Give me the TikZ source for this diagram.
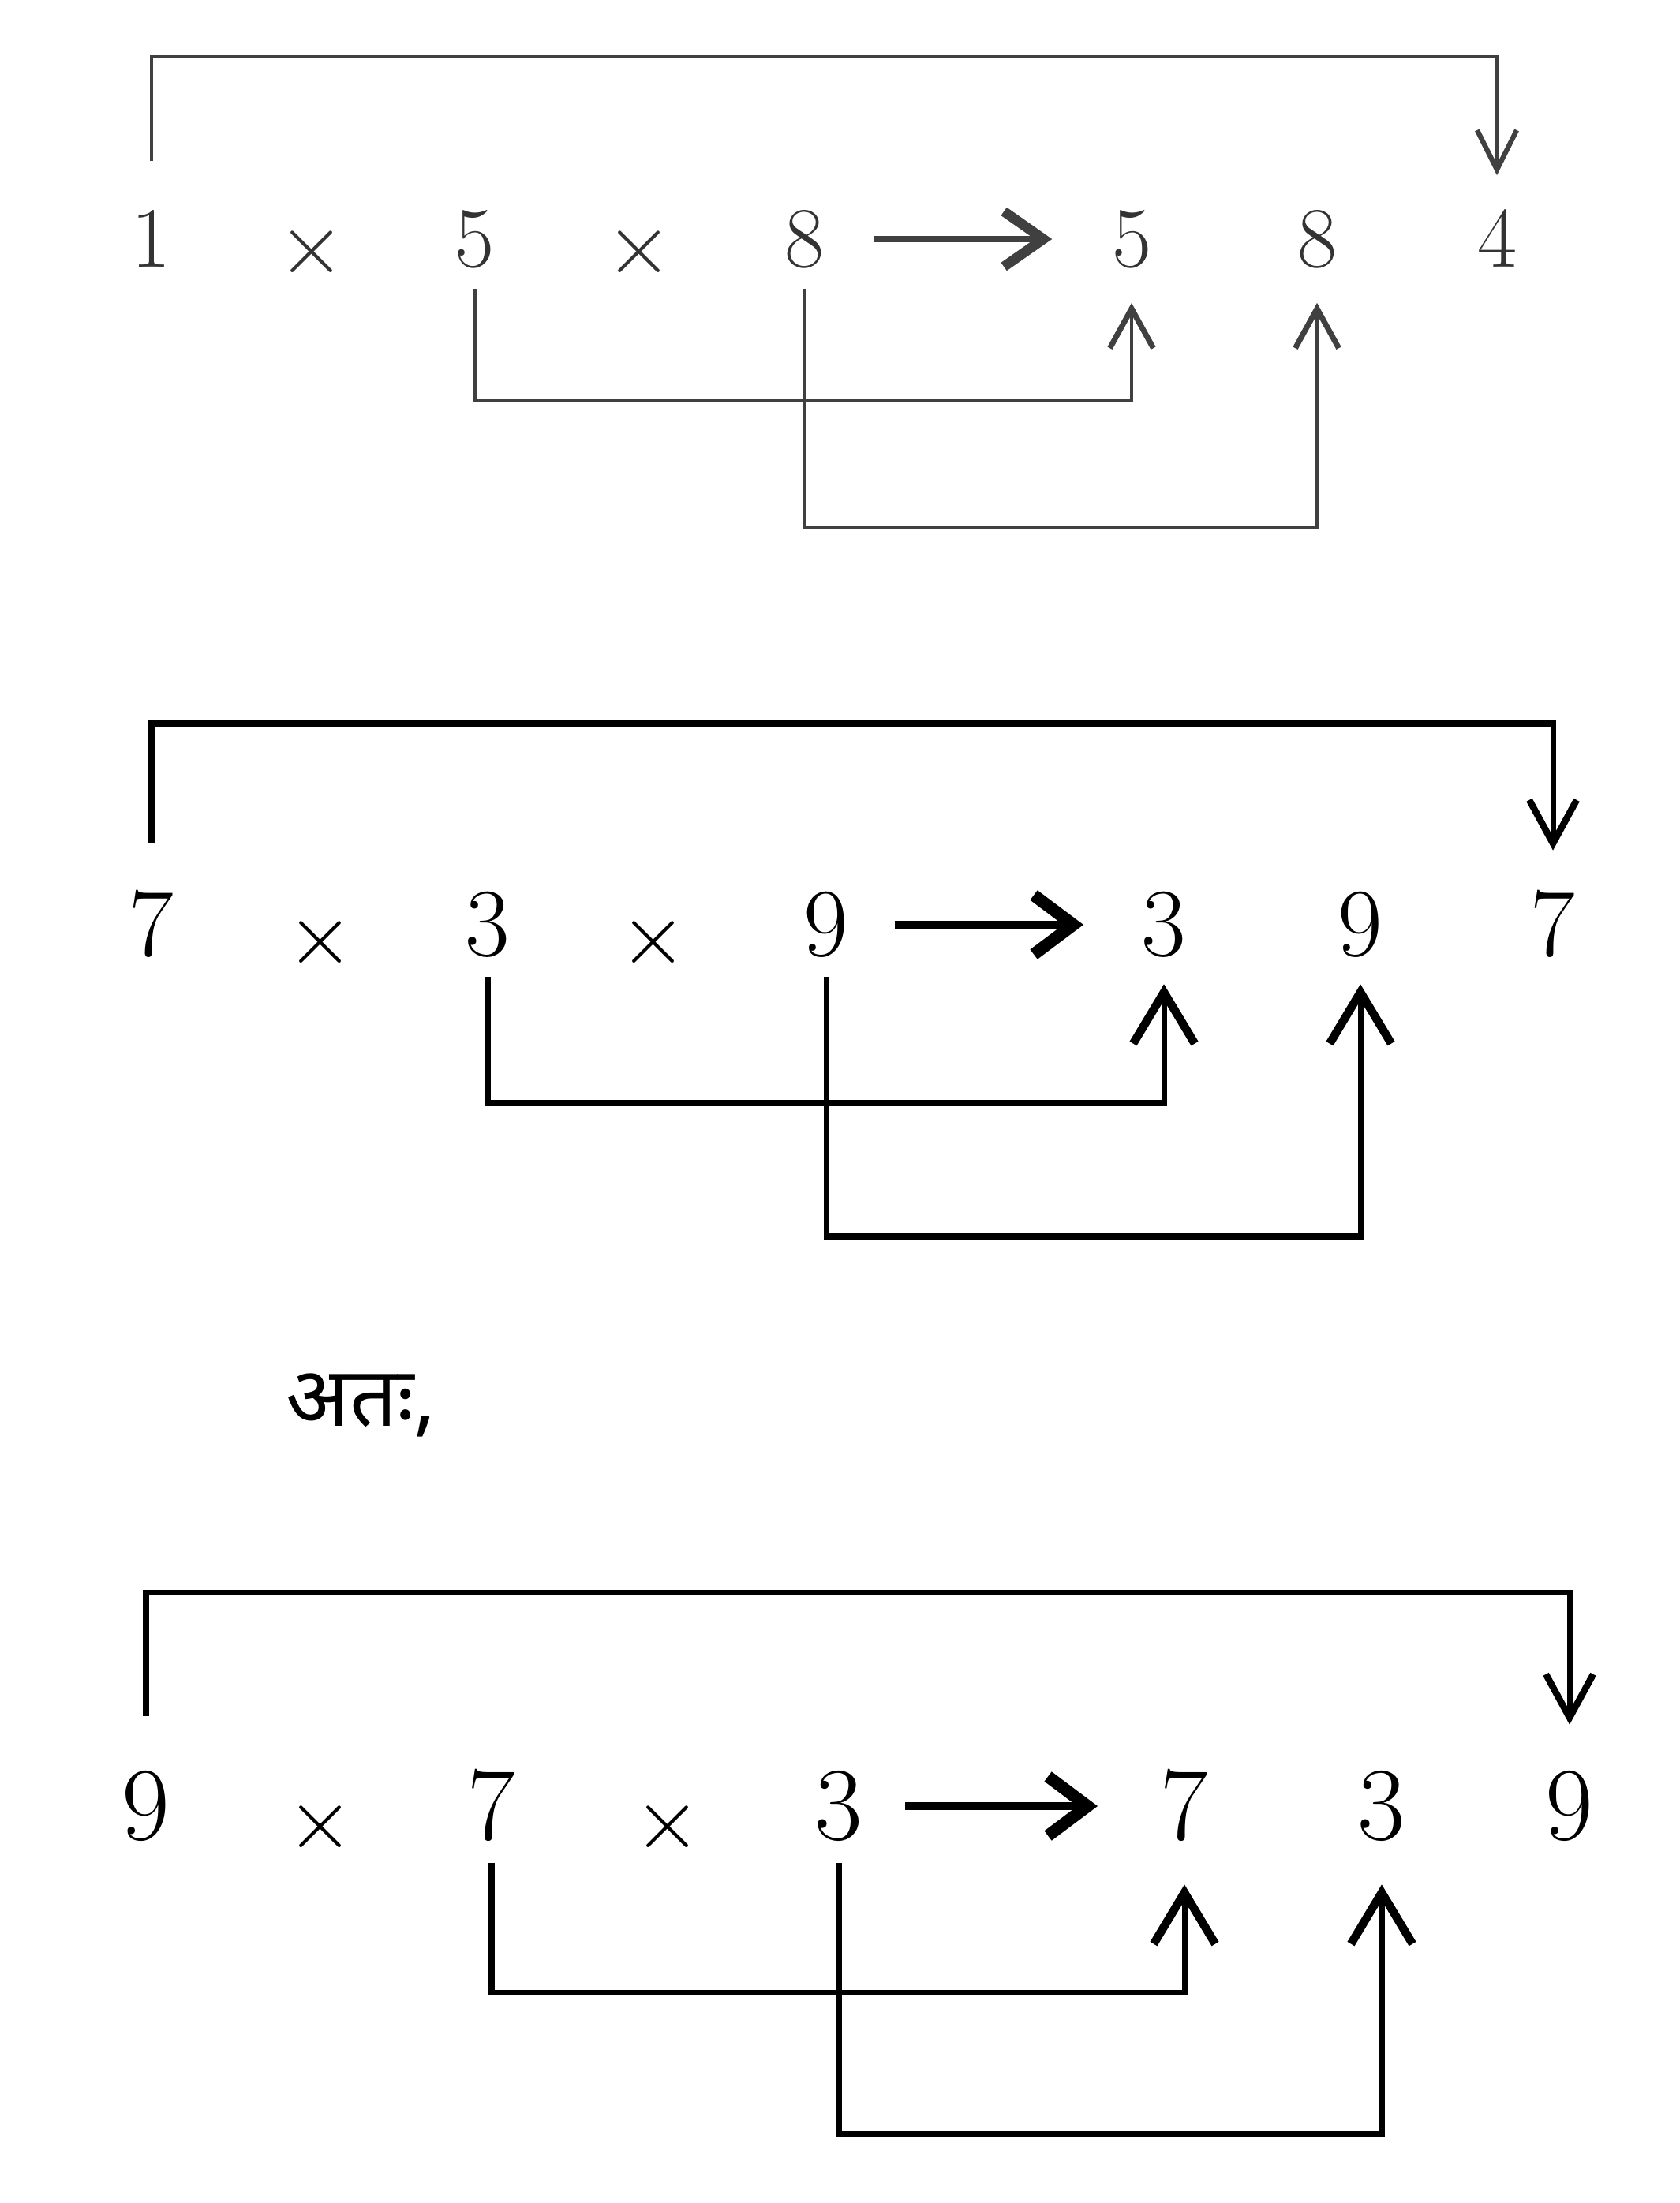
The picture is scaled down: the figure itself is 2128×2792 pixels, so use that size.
\documentclass[tikz,border=0pt]{standalone}
\usepackage{fontspec}
\newfontfamily\devfont[Script=Devanagari]{Noto Sans}
\usetikzlibrary{arrows.meta}
\begin{document}
\begin{tikzpicture}[x=0.01cm,y=-0.01cm,
  dg/.style={inner sep=0pt, text depth=0pt, anchor=center},
  fA/.style={font=\fontsize{31}{36}\selectfont, text=black!80, text height=20pt},
  fB/.style={font=\fontsize{35}{40}\selectfont, text height=22.5pt},
  fC/.style={font=\fontsize{37.5}{42}\selectfont, text height=24.2pt},
  tm/.style={scale=1.25},
  lnA/.style={line width=1.3pt, draw=black!75},
  lnB/.style={line width=2pt, draw=black},
  downA/.style={-{Straight Barb[length=0.5cm,width=0.5cm,line width=1.8pt]}},
  downB/.style={-{Straight Barb[length=0.55cm,width=0.6cm,line width=2.4pt]}},
  upA/.style={-{Straight Barb[length=0.5cm,width=0.55cm,line width=2pt]}},
  upB/.style={-{Straight Barb[length=0.65cm,width=0.78cm,line width=3pt]}},
  midA/.style={line width=2.2pt, draw=black!75, -{Straight Barb[length=0.5cm,width=0.7cm,line width=3.6pt]}},
  midB/.style={line width=3pt, draw=black, -{Straight Barb[length=0.5cm,width=0.75cm,line width=4.4pt]}}
]
\useasboundingbox (0,0) rectangle (2128,2792);

% ---------- Block 1 ----------
\begin{scope}[every node/.style={dg,fA}]
\node (a1) at (192,303) {1};
\node[tm] (ax1) at (395,303) {$\times$};
\node (a2) at (602,303) {5};
\node[tm] (ax2) at (810,303) {$\times$};
\node (a3) at (1019,303) {8};
\node (r1) at (1434,303) {5};
\node (r2) at (1669,303) {8};
\node (r3) at (1897,303) {4};
\end{scope}
\coordinate (t1) at (1000,72);
\coordinate (u1) at (1000,508);
\coordinate (v1) at (1300,668);
\draw[lnA,downA] ([yshift=0.63cm]a1.north) |- (t1) -| ([yshift=0.45cm]r3.north);
\draw[midA] ([xshift=0.62cm]a3.east) -- ([xshift=-0.75cm]r1.west);
\draw[lnA,upA] ([yshift=-0.27cm]a2.south) |- (u1) -| ([yshift=-0.45cm]r1.south);
\draw[lnA,upA] ([yshift=-0.27cm]a3.south) |- (v1) -| ([yshift=-0.45cm]r2.south);

% ---------- Block 2 ----------
\begin{scope}[every node/.style={dg,fB}]
\node (b1) at (192,1172) {7};
\node[tm] (bx1) at (406,1172) {$\times$};
\node (b2) at (618,1172) {3};
\node[tm] (bx2) at (828,1172) {$\times$};
\node (b3) at (1047,1172) {9};
\node (s1) at (1475,1172) {3};
\node (s2) at (1724,1172) {9};
\node (s3) at (1968,1172) {7};
\end{scope}
\coordinate (t2) at (1000,917);
\coordinate (u2) at (1000,1398);
\coordinate (v2) at (1300,1567);
\draw[lnB,downB] ([yshift=0.63cm]b1.north) |- (t2) -| ([yshift=0.54cm]s3.north);
\draw[midB] ([xshift=0.58cm]b3.east) -- ([xshift=-0.73cm]s1.west);
\draw[lnB,upB] ([yshift=-0.26cm]b2.south) |- (u2) -| ([yshift=-0.35cm]s1.south);
\draw[lnB,upB] ([yshift=-0.26cm]b3.south) |- (v2) -| ([yshift=-0.35cm]s2.south);

% ---------- Text ----------
\node[anchor=west, inner sep=0pt, font=\devfont\fontsize{30}{36}\selectfont] (ata) at (362,1781) {अतः,};

% ---------- Block 3 ----------
\begin{scope}[every node/.style={dg,fC}]
\node (c1) at (185,2289) {9};
\node[tm] (cx1) at (406,2289) {$\times$};
\node (c2) at (623,2289) {7};
\node[tm] (cx2) at (846,2289) {$\times$};
\node (c3) at (1063,2289) {3};
\node (w1) at (1501,2289) {7};
\node (w2) at (1751,2289) {3};
\node (w3) at (1989,2289) {9};
\end{scope}
\coordinate (t3) at (1000,2018);
\coordinate (u3) at (1000,2525);
\coordinate (v3) at (1300,2704);
\draw[lnB,downB] ([yshift=0.71cm]c1.north) |- (t3) -| ([yshift=0.60cm]w3.north);
\draw[midB] ([xshift=0.53cm]c3.east) -- ([xshift=-0.79cm]w1.west);
\draw[lnB,upB] ([yshift=-0.29cm]c2.south) |- (u3) -| ([yshift=-0.56cm]w1.south);
\draw[lnB,upB] ([yshift=-0.29cm]c3.south) |- (v3) -| ([yshift=-0.56cm]w2.south);
\end{tikzpicture}
\end{document}
